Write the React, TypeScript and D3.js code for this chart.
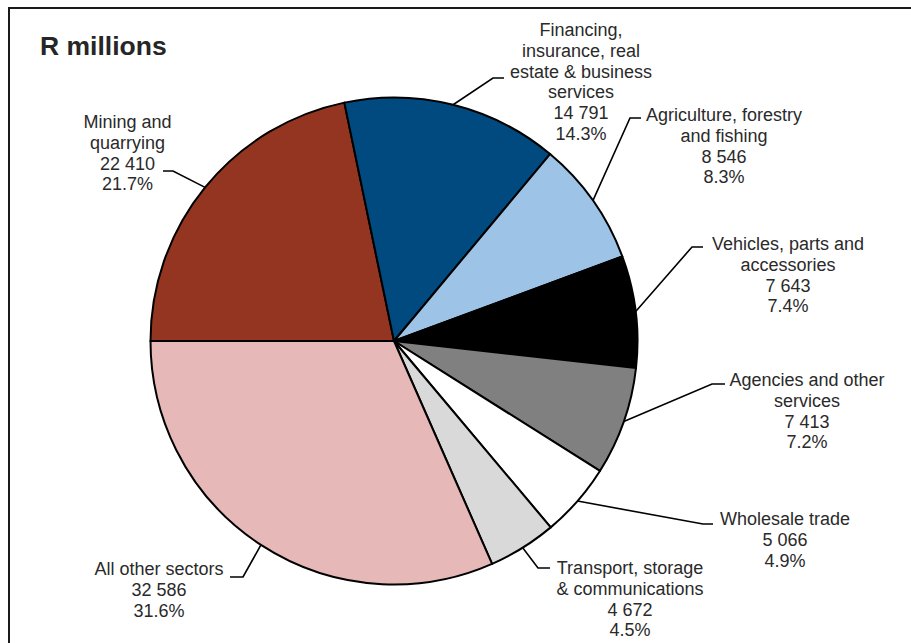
import React from "react";
import * as d3 from "d3";

const categories = [
  "Mining and quarrying",
  "Financing, insurance, real estate & business services",
  "Agriculture, forestry and fishing",
  "Vehicles, parts and accessories",
  "Agencies and other services",
  "Wholesale trade",
  "Transport, storage & communications",
  "All other sectors",
];
const values = [22410, 14791, 8546, 7643, 7413, 5066, 4672, 32586];
const labelLines = [
  ["Mining and", "quarrying"],
  ["Financing,", "insurance, real", "estate & business", "services"],
  ["Agriculture, forestry", "and fishing"],
  ["Vehicles, parts and", "accessories"],
  ["Agencies and other", "services"],
  ["Wholesale trade"],
  ["Transport, storage", "& communications"],
  ["All other sectors"],
];
const colors = ["#943521", "#004A80", "#9DC3E6", "#000000", "#808080", "#FFFFFF", "#D9D9D9", "#E6B8B7"];
const title = "R millions";

// label layout: elbow point, end of horizontal tick, text centre x, first baseline y
const labelLayout = [
  { elbow: [173, 171], tickEnd: 163, cx: 127.5, y0: 128 },
  { elbow: [493, 78], tickEnd: 504, cx: 581, y0: 36 },
  { elbow: [630, 118], tickEnd: 641, cx: 724, y0: 121 },
  { elbow: [692, 247], tickEnd: 703, cx: 788, y0: 250 },
  { elbow: [712, 384], tickEnd: 725, cx: 807, y0: 386 },
  { elbow: [703, 524], tickEnd: 713, cx: 785, y0: 525 },
  { elbow: [538, 568], tickEnd: 550, cx: 630, y0: 574 },
  { elbow: [243, 577], tickEnd: 230, cx: 159, y0: 575 },
];

const W = 911;
const H = 643;
const CX = 394;
const CY = 341;
const R = 243.5;
const LH = 20.8;

const locale = d3.formatLocale({ decimal: ".", thousands: " ", grouping: [3], currency: ["", ""] });
const fmtNum = locale.format(",d");
const fmtPct = d3.format(".1%");

export default function App() {
  const total = d3.sum(values);
  const pie = d3
    .pie<number>()
    .sort(null)
    .value((d) => d)
    .startAngle(-Math.PI / 2)
    .endAngle((3 * Math.PI) / 2);
  const arcs = pie(values);
  const arc = d3.arc<d3.PieArcDatum<number>>().innerRadius(0).outerRadius(R);
  const edge = d3.arc<d3.PieArcDatum<number>>().innerRadius(R).outerRadius(R);
  const font = "'Liberation Sans', Arial, sans-serif";

  return (
    <svg
      width={W}
      height={H}
      style={{ position: "absolute", left: 0, top: 0, background: "#fff" }}
      fontFamily={font}
    >
      <rect x={0} y={0} width={W} height={H} fill="#fff" />
      <rect x={9} y={8} width={W + 20} height={H + 20} fill="none" stroke="#1a1a1a" strokeWidth={2} />
      <text x={40} y={55} fontSize={26.5} fontWeight="bold" fill="#262626">
        {title}
      </text>
      <g transform={`translate(${CX},${CY})`}>
        {arcs.map((a, i) => (
          <path key={categories[i]} d={arc(a) || ""} fill={colors[i]} stroke="#000" strokeWidth={2} strokeLinejoin="round" />
        ))}
      </g>
      {arcs.map((a, i) => {
        const [ex, ey] = edge.centroid(a);
        const L = labelLayout[i];
        const pts = [
          [CX + ex, CY + ey],
          [L.elbow[0], L.elbow[1]],
          [L.tickEnd, L.elbow[1]],
        ] as [number, number][];
        const line = d3.line()(pts) || "";
        const lines = [...labelLines[i], fmtNum(values[i]), fmtPct(values[i] / total)];
        return (
          <g key={"lbl" + i}>
            <path d={line} fill="none" stroke="#000" strokeWidth={1.6} />
            <text fontSize={18} fill="#2a2a2a" textAnchor="middle">
              {lines.map((t, j) => (
                <tspan key={j} x={L.cx} y={L.y0 + j * LH}>
                  {t}
                </tspan>
              ))}
            </text>
          </g>
        );
      })}
    </svg>
  );
}
